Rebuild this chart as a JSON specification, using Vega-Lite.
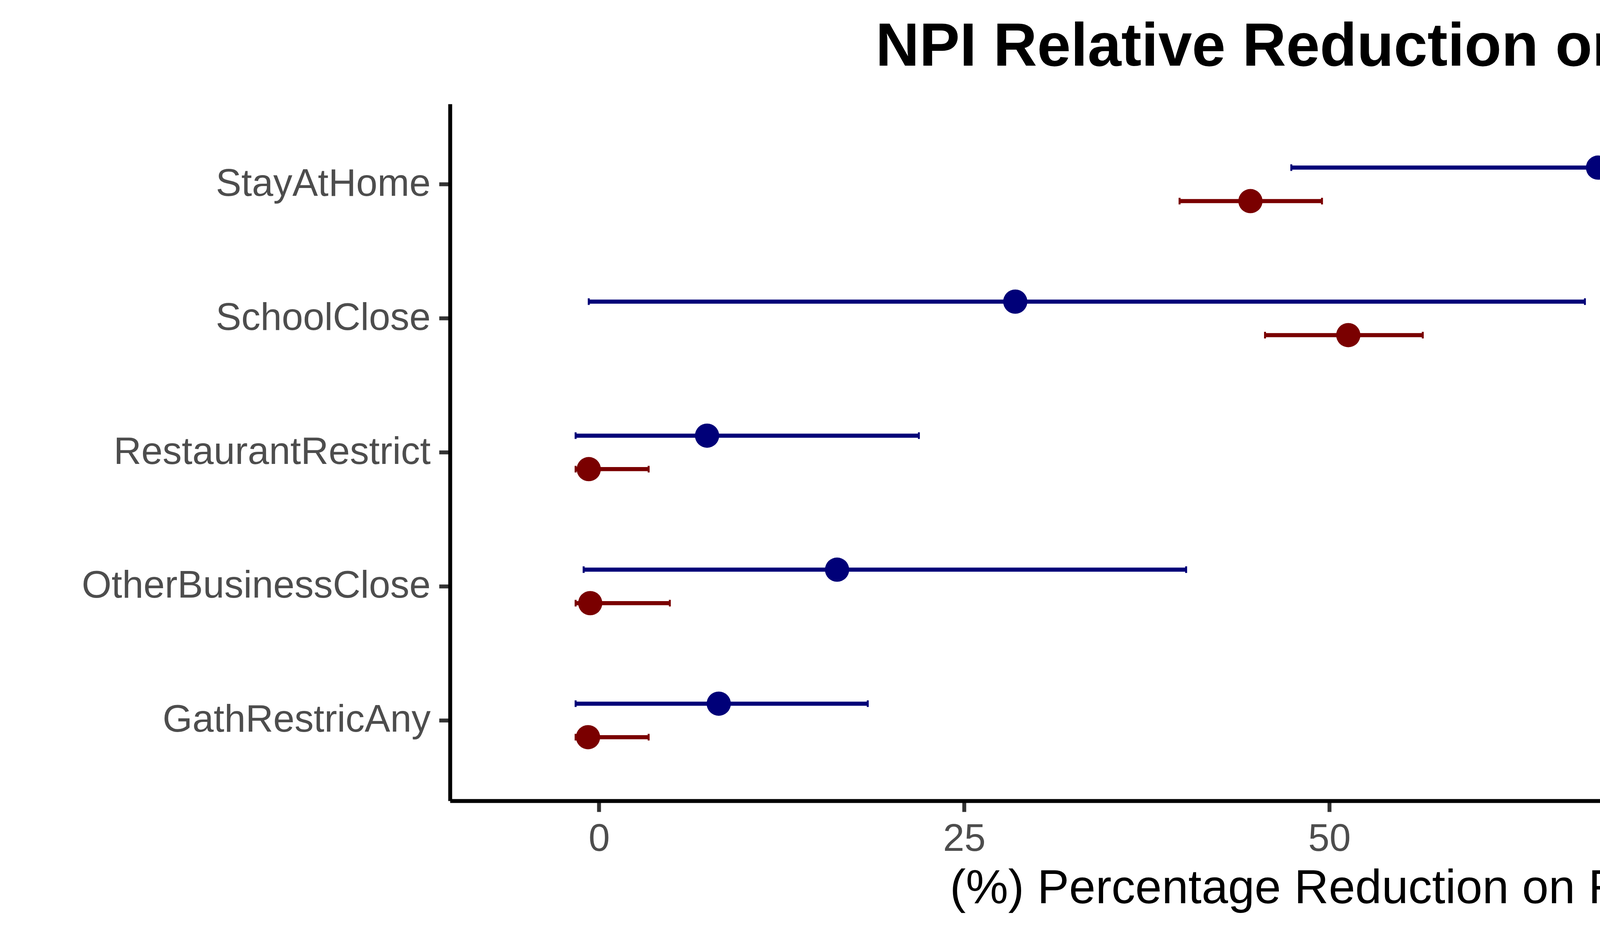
{
  "$schema": "https://vega.github.io/schema/vega-lite/v6.json",
  "width": 4315,
  "height": 1783,
  "autosize": {"type": "none"},
  "padding": {"left": 1152, "top": 266, "right": 933, "bottom": 351},
  "background": "white",
  "title": {
    "text": "NPI Relative Reduction on Rt",
    "font": "Liberation Sans",
    "fontSize": 155,
    "fontWeight": "bold",
    "color": "black",
    "anchor": "middle",
    "frame": "group",
    "baseline": "top",
    "offset": 65
  },
  "data": {
    "values": [
      {"npi": "StayAtHome", "group": "51 states", "est": 68.4, "lo": 47.4, "hi": 81.3},
      {"npi": "StayAtHome", "group": "42 states", "est": 44.6, "lo": 39.75, "hi": 49.5},
      {"npi": "SchoolClose", "group": "51 states", "est": 28.5, "lo": -0.7, "hi": 67.5},
      {"npi": "SchoolClose", "group": "42 states", "est": 51.3, "lo": 45.6, "hi": 56.4},
      {"npi": "RestaurantRestrict", "group": "51 states", "est": 7.4, "lo": -1.6, "hi": 21.9},
      {"npi": "RestaurantRestrict", "group": "42 states", "est": -0.7, "lo": -1.6, "hi": 3.4},
      {"npi": "OtherBusinessClose", "group": "51 states", "est": 16.3, "lo": -1.05, "hi": 40.2},
      {"npi": "OtherBusinessClose", "group": "42 states", "est": -0.6, "lo": -1.6, "hi": 4.85},
      {"npi": "GathRestricAny", "group": "51 states", "est": 8.2, "lo": -1.6, "hi": 18.4},
      {"npi": "GathRestricAny", "group": "42 states", "est": -0.75, "lo": -1.6, "hi": 3.4}
    ]
  },
  "encoding": {
    "y": {
      "field": "npi",
      "type": "nominal",
      "sort": ["StayAtHome", "SchoolClose", "RestaurantRestrict", "OtherBusinessClose", "GathRestricAny"],
      "scale": {"paddingInner": 0, "paddingOuter": 0.1},
      "axis": {"title": null, "labelLimit": 0}
    },
    "yOffset": {
      "field": "group",
      "type": "nominal",
      "sort": ["51 states", "42 states"],
      "scale": {"paddingInner": 0, "paddingOuter": 1}
    },
    "color": {
      "field": "group",
      "type": "nominal",
      "scale": {"domain": ["42 states", "51 states"], "range": ["#7A0000", "#000078"]},
      "legend": {
        "title": null,
        "orient": "none",
        "legendX": 4497,
        "legendY": 818,
        "symbolType": "M-1,-0.07H1V0.07H-1Z M-0.4,0A0.4,0.4 0 1,0 0.4,0A0.4,0.4 0 1,0 -0.4,0Z",
        "symbolSize": 23716,
        "symbolStrokeWidth": 0,
        "symbolOpacity": 1,
        "labelFont": "Liberation Sans",
        "labelFontSize": 97,
        "labelColor": "black",
        "labelLimit": 0,
        "labelOffset": 81,
        "rowPadding": 65,
        "padding": 0,
        "encode": {
          "symbols": {"update": {"fill": {"scale": "color", "field": "value"}, "stroke": {"value": "transparent"}}}
        }
      }
    }
  },
  "layer": [
    {
      "mark": {"type": "rule", "strokeWidth": 10.5},
      "encoding": {
        "x": {
          "field": "lo",
          "type": "quantitative",
          "scale": {"domain": [-10.2, 105.2], "nice": false, "zero": false},
          "axis": {"values": [0, 25, 50, 75, 100], "title": "(%) Percentage Reduction on Rt"}
        },
        "x2": {"field": "hi"}
      }
    },
    {
      "mark": {"type": "tick", "size": 17, "thickness": 5, "opacity": 1},
      "encoding": {"x": {"field": "lo", "type": "quantitative"}}
    },
    {
      "mark": {"type": "tick", "size": 17, "thickness": 5, "opacity": 1},
      "encoding": {"x": {"field": "hi", "type": "quantitative"}}
    },
    {
      "mark": {"type": "point", "filled": true, "opacity": 1, "size": 3844},
      "encoding": {"x": {"field": "est", "type": "quantitative"}}
    }
  ],
  "config": {
    "view": {"stroke": null},
    "axis": {
      "grid": false,
      "domainColor": "black",
      "domainWidth": 10,
      "tickColor": "#333333",
      "tickWidth": 10,
      "tickSize": 28,
      "labelFont": "Liberation Sans",
      "labelFontSize": 98,
      "labelColor": "#4D4D4D",
      "labelPadding": 22,
      "labelLimit": 0,
      "titleFont": "Liberation Sans",
      "titleFontSize": 122,
      "titleFontWeight": "normal",
      "titleColor": "black",
      "titlePadding": 18
    }
  }
}
